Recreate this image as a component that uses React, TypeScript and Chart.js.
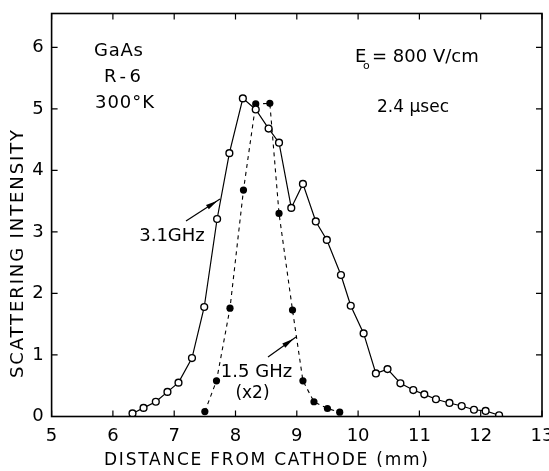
import React, { useEffect, useRef } from 'react';
import { Chart, registerables } from 'chart.js';

Chart.register(...registerables);

// 3.1 GHz (open circles)
const openX = [6.32, 6.50, 6.70, 6.89, 7.07, 7.29, 7.49, 7.70, 7.90, 8.12, 8.33, 8.54, 8.71, 8.91, 9.10, 9.31, 9.49, 9.72, 9.88, 10.09, 10.29, 10.48, 10.69, 10.90, 11.08, 11.27, 11.49, 11.69, 11.89, 12.08, 12.30];
const openY = [0.05, 0.14, 0.24, 0.40, 0.55, 0.95, 1.78, 3.21, 4.28, 5.17, 4.99, 4.68, 4.45, 3.39, 3.78, 3.17, 2.87, 2.30, 1.80, 1.35, 0.70, 0.77, 0.54, 0.43, 0.36, 0.28, 0.22, 0.17, 0.11, 0.09, 0.02];
// 1.5 GHz (x2) (filled circles)
const filledX = [7.50, 7.69, 7.91, 8.13, 8.33, 8.56, 8.71, 8.93, 9.10, 9.28, 9.50, 9.70];
const filledY = [0.08, 0.58, 1.76, 3.68, 5.08, 5.09, 3.30, 1.73, 0.58, 0.24, 0.13, 0.07];

const xTicks = [5, 6, 7, 8, 9, 10, 11, 12, 13];
const yTicks = [0, 1, 2, 3, 4, 5, 6];
const xTitle = 'DISTANCE FROM CATHODE (mm)';
const yTitle = 'SCATTERING INTENSITY';

const FONT = '"DejaVu Sans", "Liberation Sans", sans-serif';

function spacedText(ctx: CanvasRenderingContext2D, text: string, x: number, y: number, spacing: number) {
  ctx.save();
  (ctx as any).letterSpacing = `${spacing}px`;
  ctx.textAlign = 'left';
  const w = ctx.measureText(text).width - spacing;
  ctx.fillText(text, x - w / 2, y);
  ctx.restore();
}

function fitText(ctx: CanvasRenderingContext2D, text: string, cx: number, cy: number, width: number) {
  ctx.save();
  (ctx as any).letterSpacing = '0px';
  const w0 = ctx.measureText(text).width;
  const sp = Math.max(0, (width - w0) / (text.length - 1));
  ctx.restore();
  spacedText(ctx, text, cx, cy, sp);
}

function arrow(ctx: CanvasRenderingContext2D, x1: number, y1: number, x2: number, y2: number) {
  ctx.save();
  ctx.strokeStyle = '#000';
  ctx.fillStyle = '#000';
  ctx.lineWidth = 1.2;
  ctx.beginPath();
  ctx.moveTo(x1, y1);
  ctx.lineTo(x2, y2);
  ctx.stroke();
  const a = Math.atan2(y2 - y1, x2 - x1);
  const tx = x2 - Math.cos(a) * 3;
  const ty = y2 - Math.sin(a) * 3;
  const L = 12, W = 2.6;
  ctx.beginPath();
  ctx.moveTo(tx, ty);
  ctx.lineTo(tx - Math.cos(a) * L - Math.sin(a) * W, ty - Math.sin(a) * L + Math.cos(a) * W);
  ctx.lineTo(tx - Math.cos(a) * L + Math.sin(a) * W, ty - Math.sin(a) * L - Math.cos(a) * W);
  ctx.closePath();
  ctx.fill();
  ctx.restore();
}

const decorPlugin = {
  id: 'decor',
  afterDraw(chart: any) {
    const ctx: CanvasRenderingContext2D = chart.ctx;
    const { left, right, top, bottom } = chart.chartArea;
    const xs = chart.scales.x;
    const ys = chart.scales.y;
    ctx.save();
    // frame
    ctx.strokeStyle = '#000';
    ctx.lineWidth = 1.6;
    ctx.strokeRect(left, top, right - left, bottom - top);
    // inward ticks
    ctx.lineWidth = 1.2;
    const tl = 6;
    ctx.beginPath();
    xTicks.forEach((v) => {
      const px = xs.getPixelForValue(v);
      ctx.moveTo(px, bottom);
      ctx.lineTo(px, bottom - tl);
      ctx.moveTo(px, top);
      ctx.lineTo(px, top + tl);
    });
    yTicks.forEach((v) => {
      const py = ys.getPixelForValue(v);
      ctx.moveTo(left, py);
      ctx.lineTo(left + tl, py);
      ctx.moveTo(right, py);
      ctx.lineTo(right - tl, py);
    });
    ctx.stroke();

    ctx.fillStyle = '#000';
    ctx.textBaseline = 'middle';
    ctx.font = `18px ${FONT}`;
    // annotations
    fitText(ctx, 'GaAs', 118.5, 51, 49);
    fitText(ctx, 'R-6', 122.5, 77.5, 37);
    fitText(ctx, '300°K', 124.5, 103, 59);
    // E0 = 800 V/cm
    ctx.save();
    ctx.textAlign = 'left';
    ctx.fillText('E', 355, 57.5);
    ctx.font = `11px ${FONT}`;
    ctx.fillText('o', 363, 66);
    ctx.font = `18px ${FONT}`;
    ctx.fillText('= 800 V/cm', 372, 57.5);
    ctx.restore();
    ctx.font = `17px ${FONT}`;
    fitText(ctx, '2.4 μsec', 413, 107.5, 72);
    ctx.font = `18px ${FONT}`;
    fitText(ctx, '3.1GHz', 172, 236.5, 56);
    fitText(ctx, '1.5 GHz', 256.5, 372.5, 59);
    ctx.font = `17px ${FONT}`;
    fitText(ctx, '(x2)', 252.5, 394, 31);
    arrow(ctx, 186, 221, 220, 199);
    arrow(ctx, 268, 357, 296, 337);

    // axis titles
    ctx.font = `17px ${FONT}`;
    fitText(ctx, xTitle, 266, 461, 324);
    ctx.save();
    ctx.translate(18.5, 254);
    ctx.rotate(-Math.PI / 2);
    ctx.font = `18px ${FONT}`;
    fitText(ctx, yTitle, 0, 0, 248);
    ctx.restore();
    ctx.restore();
  },
};

export default function App() {
  const ref = useRef<HTMLCanvasElement | null>(null);
  useEffect(() => {
    if (!ref.current) return;
    const chart = new Chart(ref.current, {
      type: 'line',
      data: {
        datasets: [
          {
            label: '3.1 GHz',
            data: openX.map((x, i) => ({ x, y: openY[i] })),
            borderColor: '#000',
            borderWidth: 1.2,
            pointRadius: 3.4,
            pointBackgroundColor: '#fff',
            pointBorderColor: '#000',
            pointBorderWidth: 1.4,
            tension: 0,
            fill: false,
          },
          {
            label: '1.5 GHz (x2)',
            data: filledX.map((x, i) => ({ x, y: filledY[i] })),
            borderColor: '#000',
            borderWidth: 1.1,
            borderDash: [4, 4],
            pointRadius: 3.6,
            pointBackgroundColor: '#000',
            pointBorderColor: '#000',
            pointBorderWidth: 0,
            tension: 0,
            fill: false,
          },
        ],
      },
      options: {
        responsive: false,
        animation: false,
        layout: { padding: { top: 13.5, right: 7, left: 0, bottom: 0 } },
        plugins: { legend: { display: false }, tooltip: { enabled: false } },
        scales: {
          x: {
            type: 'linear',
            min: 5,
            max: 13,
            grid: { display: false, drawTicks: false },
            border: { display: false },
            afterBuildTicks: (s: any) => { s.ticks = xTicks.map((v) => ({ value: v })); },
            afterFit: (s: any) => { s.height = 54.5; s.paddingLeft = 0; s.paddingRight = 0; },
            ticks: { padding: 9, color: '#000', font: { family: FONT, size: 18 }, maxRotation: 0, autoSkip: false },
          },
          y: {
            type: 'linear',
            min: 0,
            max: 6.55,
            grid: { display: false, drawTicks: false },
            border: { display: false },
            afterBuildTicks: (s: any) => { s.ticks = yTicks.map((v) => ({ value: v })); },
            afterFit: (s: any) => { s.width = 51.6; s.paddingTop = 0; s.paddingBottom = 0; },
            ticks: { padding: 8, color: '#000', font: { family: FONT, size: 18 }, autoSkip: false },
          },
        },
      },
      plugins: [decorPlugin],
    } as any);
    return () => chart.destroy();
  }, []);
  return (
    <div style={{ position: 'fixed', left: 0, top: 0, width: 549, height: 471, background: '#fff' }}>
      <canvas ref={ref} width={549} height={471} style={{ width: 549, height: 471 }} />
    </div>
  );
}
